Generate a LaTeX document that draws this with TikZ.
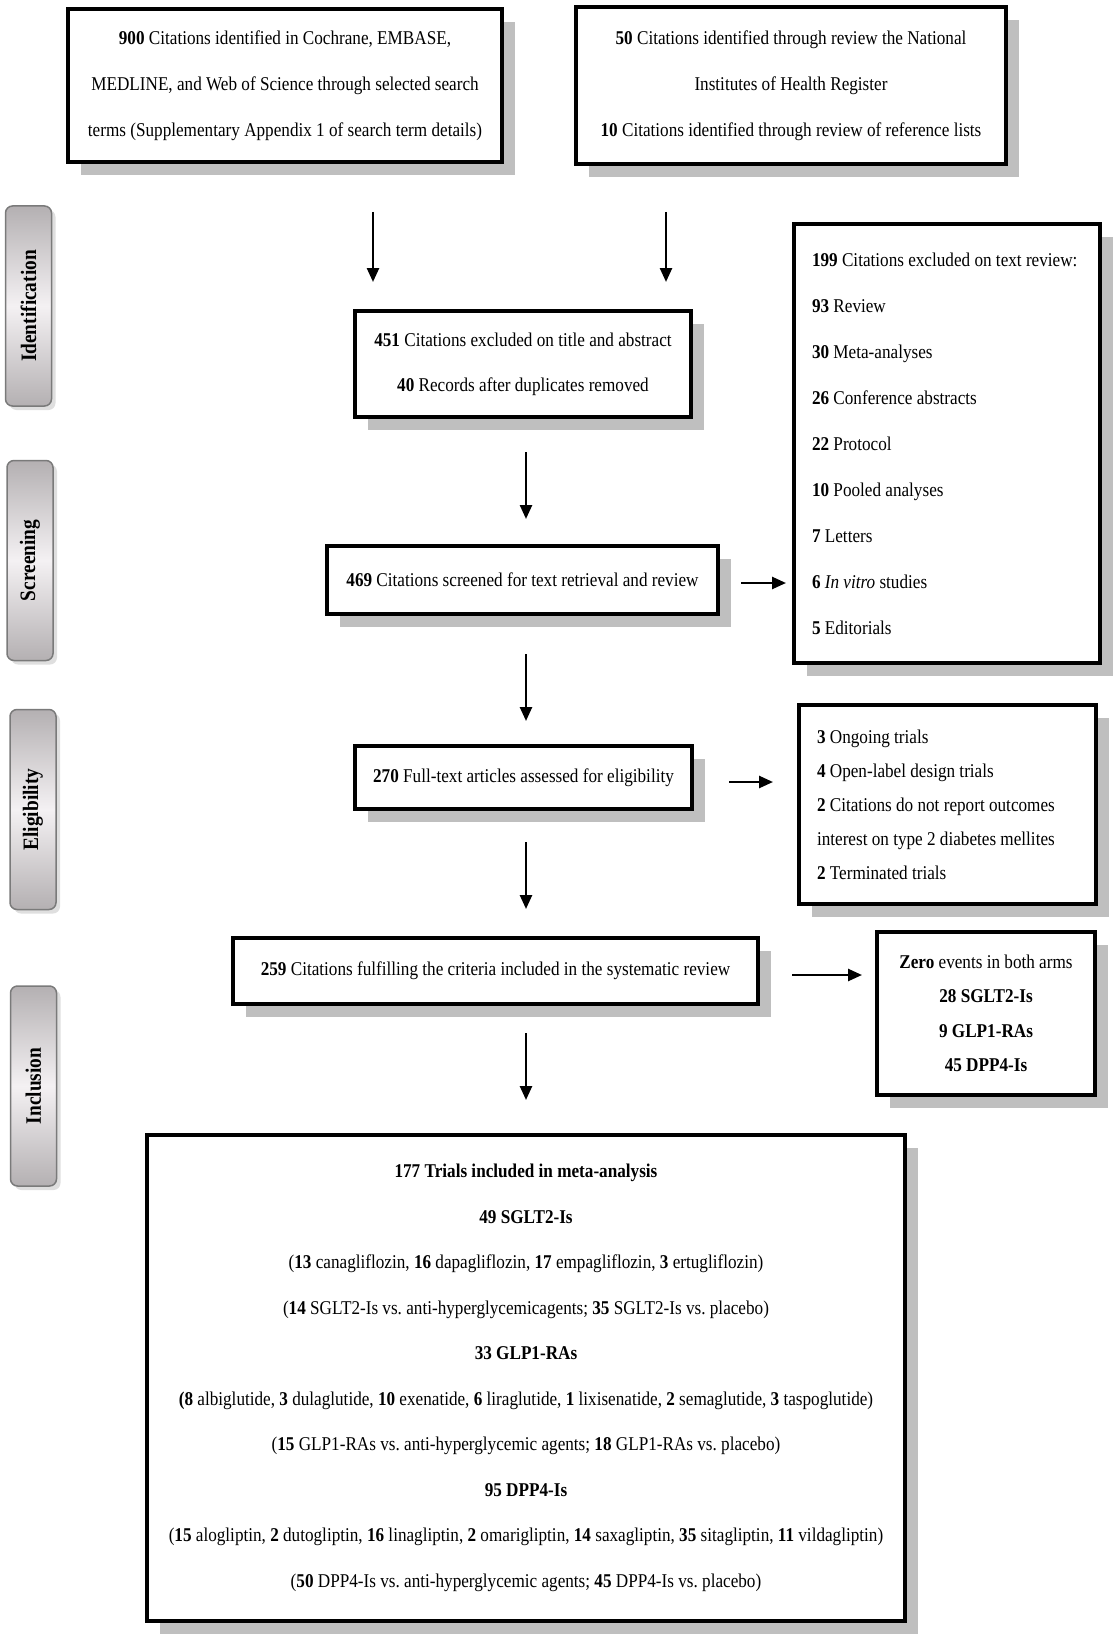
\documentclass[tikz,border=0pt]{standalone}
\usepackage{fontspec}
\setmainfont{Liberation Serif}[FakeStretch=0.88]
\usetikzlibrary{arrows.meta,shadows}
\definecolor{ShadowGray}{HTML}{BFBFBF}
\definecolor{BarLight}{HTML}{F4F1F3}
\definecolor{BarDark}{HTML}{B4B0B2}
\definecolor{BarEdge}{HTML}{7A7A7A}
\frenchspacing
\tikzset{
  flowbox/.style={draw, line width=3.5pt, fill=white, inner sep=0pt, align=center,
    drop shadow={shadow xshift=13pt, shadow yshift=-13pt, opacity=1, fill=ShadowGray}},
  listbox/.style={flowbox, inner xsep=18pt, inner ysep=0pt, align=flush left},
  stagebar/.style={draw=BarEdge, line width=1.5pt, rounded corners=7pt, rotate=90,
    top color=BarDark, bottom color=BarDark, middle color=BarLight,
    minimum width=200pt, minimum height=46pt, inner sep=0pt,
    font=\fontsize{22}{24}\selectfont\bfseries,
    drop shadow={shadow xshift=4pt, shadow yshift=-4pt, opacity=0.5, fill=ShadowGray}},
  flowarrow/.style={line width=2.5pt, -{Triangle[length=14pt,width=12pt]}},
}

\begin{document}
\begin{tikzpicture}[x=1pt,y=-1pt]%
\useasboundingbox (0,0) rectangle (1119,1645);%
% stage bars
\node[stagebar] (ident) at (28.5,306) {Identification};%
\node[stagebar] (screen) at (30,560.5) {Screening};%
\node[stagebar] (elig) at (33,809.5) {Eligibility};%
\node[stagebar] (incl) at (33.5,1086) {Inclusion};%
% records
\node[flowbox, minimum width=434pt, minimum height=153pt, font=\fontsize{19.5}{46}\selectfont] (search) at (285,85.5) {\textbf{900} Citations identified in Cochrane, EMBASE,\\MEDLINE, and Web of Science through selected search\\terms (Supplementary Appendix 1 of search term details)};%
\node[flowbox, minimum width=430pt, minimum height=157pt, font=\fontsize{19.5}{46}\selectfont] (other) at (791,85.5) {\textbf{50} Citations identified through review the National\\Institutes of Health Register\\\textbf{10} Citations identified through review of reference lists};%
\node[flowbox, minimum width=336pt, minimum height=106pt, font=\fontsize{19.5}{45}\selectfont] (dedup) at (523,364) {\textbf{451} Citations excluded on title and abstract\\\textbf{40} Records after duplicates removed};%
\node[flowbox, minimum width=391pt, minimum height=68pt, font=\fontsize{19.5}{23}\selectfont] (screened) at (522.5,580) {\textbf{469} Citations screened for text retrieval and review};%
\node[listbox, text width=270pt, minimum height=439pt, font=\fontsize{19.5}{46}\selectfont] (textex) at (947,443.5) {\mbox{\textbf{199} Citations excluded on text review:}\\\textbf{93} Review\\\textbf{30} Meta-analyses\\\textbf{26} Conference abstracts\\\textbf{22} Protocol\\\textbf{10} Pooled analyses\\\textbf{7} Letters\\\textbf{6} \textit{In vitro} studies\\\textbf{5} Editorials};%
\node[flowbox, minimum width=337pt, minimum height=63pt, font=\fontsize{19.5}{23}\selectfont] (fulltext) at (523.5,777.5) {\textbf{270} Full-text articles assessed for eligibility};%
\node[listbox, text width=261pt, minimum height=199pt, font=\fontsize{19.5}{34}\selectfont] (ftex) at (947.5,804.5) {\textbf{3} Ongoing trials\\\textbf{4} Open-label design trials\\\mbox{\textbf{2} Citations do not report outcomes}\\\mbox{interest on type 2 diabetes mellites}\\\textbf{2} Terminated trials};%
\node[flowbox, minimum width=525pt, minimum height=66pt, font=\fontsize{19.5}{23}\selectfont] (sysrev) at (495.5,971) {\textbf{259} Citations fulfilling the criteria included in the systematic review};%
\node[flowbox, minimum width=218pt, minimum height=163pt, font=\fontsize{19.5}{34.5}\selectfont] (zero) at (986,1013.5) {\textbf{Zero} events in both arms\\\textbf{28 SGLT2-Is}\\\textbf{9 GLP1-RAs}\\\textbf{45 DPP4-Is}};%
\node[flowbox, minimum width=758pt, minimum height=486pt, font=\fontsize{19.5}{45.5}\selectfont] (meta) at (526,1378) {\textbf{177 Trials included in meta-analysis}\\\textbf{49 SGLT2-Is}\\(\textbf{13} canagliflozin, \textbf{16} dapagliflozin, \textbf{17} empagliflozin, \textbf{3} ertugliflozin)\\(\textbf{14} SGLT2-Is vs. anti-hyperglycemicagents; \textbf{35} SGLT2-Is vs. placebo)\\\textbf{33 GLP1-RAs}\\\textbf{(8} albiglutide, \textbf{3} dulaglutide, \textbf{10} exenatide, \textbf{6} liraglutide, \textbf{1} lixisenatide, \textbf{2} semaglutide, \textbf{3} taspoglutide)\\(\textbf{15} GLP1-RAs vs. anti-hyperglycemic agents; \textbf{18} GLP1-RAs vs. placebo)\\\textbf{95 DPP4-Is}\\(\textbf{15} alogliptin, \textbf{2} dutogliptin, \textbf{16} linagliptin, \textbf{2} omarigliptin, \textbf{14} saxagliptin, \textbf{35} sitagliptin, \textbf{11} vildagliptin)\\(\textbf{50} DPP4-Is vs. anti-hyperglycemic agents; \textbf{45} DPP4-Is vs. placebo)};%
% arrow ends
\coordinate (a1s) at (373,212);%
\coordinate (a1e) at (373,282);%
\coordinate (a2s) at (666,212);%
\coordinate (a2e) at (666,282);%
\coordinate (a3s) at (526,452);%
\coordinate (a3e) at (526,519);%
\coordinate (a4s) at (741,583);%
\coordinate (a4e) at (786,583);%
\coordinate (a5s) at (526,654);%
\coordinate (a5e) at (526,721);%
\coordinate (a6s) at (729,782);%
\coordinate (a6e) at (773,782);%
\coordinate (a7s) at (526,842);%
\coordinate (a7e) at (526,909);%
\coordinate (a8s) at (792,975);%
\coordinate (a8e) at (862,975);%
\coordinate (a9s) at (526,1033);%
\coordinate (a9e) at (526,1100);%
\foreach \s/\e in {a1s/a1e, a2s/a2e, a3s/a3e, a4s/a4e, a5s/a5e, a6s/a6e, a7s/a7e, a8s/a8e, a9s/a9e}
  \draw[flowarrow] (\s) -- (\e);%
\end{tikzpicture}
\end{document}
